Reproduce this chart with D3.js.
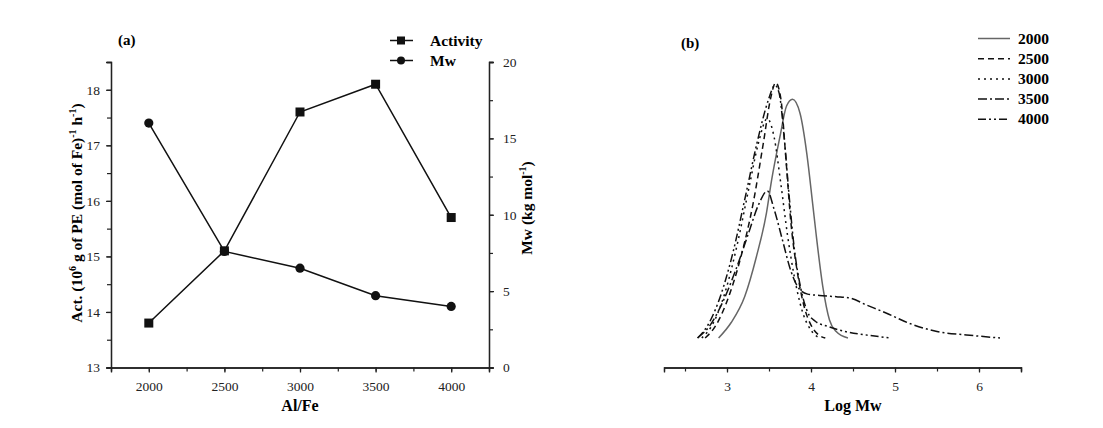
<!DOCTYPE html>
<html><head><meta charset="utf-8">
<script src="https://cdn.jsdelivr.net/npm/d3@7"></script>
<style>
body{margin:0;background:#fff;}
svg{display:block;font-family:"Liberation Serif","Times New Roman",serif;}
</style></head><body>
<svg id="c" width="1103" height="428"></svg>
<script>
// ---------- Panel (a) data ----------
const alFe = [2000, 2500, 3000, 3500, 4000];
const activity = [13.8, 15.1, 17.6, 18.1, 15.7];
const mw = [16.0, 7.6, 6.5, 4.7, 4.0];
const xTicksA = [2000, 2500, 3000, 3500, 4000];
const yTicksLeft = [13, 14, 15, 16, 17, 18];
const yTicksRight = [0, 5, 10, 15, 20];

// ---------- Panel (b) data: [log Mw, normalized intensity] ----------
const seriesNames = ["2000", "2500", "3000", "3500", "4000"];
const gpc2000 = [[2.90,0],[3.05,0.06],[3.21,0.16],[3.35,0.315],[3.47,0.485],[3.53,0.61],[3.63,0.78],[3.71,0.9],[3.78,0.925],[3.87,0.87],[3.95,0.715],[4.02,0.52],[4.06,0.405],[4.14,0.2],[4.22,0.07],[4.30,0.025],[4.44,0]];
const gpc2500 = [[2.74,0],[2.87,0.05],[3.02,0.16],[3.17,0.32],[3.31,0.52],[3.43,0.75],[3.52,0.93],[3.58,0.99],[3.64,0.93],[3.70,0.7],[3.76,0.45],[3.84,0.25],[3.92,0.12],[4.00,0.05],[4.08,0.015],[4.17,0]];
const gpc3000 = [[2.70,0],[2.84,0.06],[2.98,0.18],[3.12,0.36],[3.26,0.58],[3.37,0.75],[3.48,0.85],[3.56,0.78],[3.64,0.6],[3.72,0.4],[3.80,0.24],[3.90,0.1],[4.00,0.03],[4.10,0]];
const gpc3500 = [[2.65,0],[2.80,0.05],[2.95,0.14],[3.10,0.26],[3.25,0.40],[3.38,0.52],[3.48,0.57],[3.56,0.5],[3.66,0.38],[3.76,0.26],[3.86,0.19],[3.96,0.17],[4.10,0.165],[4.30,0.16],[4.46,0.155],[4.66,0.128],[4.90,0.096],[5.17,0.057],[5.50,0.025],[5.85,0.012],[6.25,0]];
const gpc4000 = [[2.65,0],[2.79,0.06],[2.93,0.17],[3.07,0.33],[3.22,0.55],[3.36,0.76],[3.49,0.92],[3.57,0.98],[3.62,0.95],[3.68,0.78],[3.74,0.55],[3.80,0.35],[3.88,0.19],[3.96,0.1],[4.05,0.065],[4.20,0.045],[4.42,0.024],[4.70,0.01],[4.95,0]];
const xTicksB = [3, 4, 5, 6];

const SERIF = "'Liberation Serif','Times New Roman',serif";
const svg = d3.select("#c");

// ================= Panel (a) =================
const xA = d3.scaleLinear().domain([1750, 4250]).range([111, 489]);
const yL = d3.scaleLinear().domain([13, 18.5]).range([367.5, 62]);
const yR = d3.scaleLinear().domain([0, 20]).range([367.5, 62]);

function styleAxis(g){
  g.attr("font-family", SERIF).attr("font-size", 13.5);
  g.selectAll(".tick text").attr("font-family", SERIF).attr("font-size", 13.5).attr("fill","#222");
  g.select(".domain").attr("stroke","#222").attr("stroke-width",1.3);
  g.selectAll(".tick line").attr("stroke","#222").attr("stroke-width",1.2);
}

// minor ticks
svg.append("g").attr("transform","translate(0,367.5)")
  .call(d3.axisBottom(xA).tickValues(d3.range(1750,4251,250)).tickSize(4).tickFormat(""))
  .call(styleAxis);
svg.append("g").attr("transform","translate(0,367.5)")
  .call(d3.axisBottom(xA).tickValues(xTicksA).tickSize(5).tickPadding(9).tickFormat(d3.format("d")))
  .call(styleAxis);

svg.append("g").attr("transform","translate(111,0)")
  .call(d3.axisLeft(yL).tickValues(d3.range(13,18.51,0.5)).tickSize(4).tickFormat(""))
  .call(styleAxis);
svg.append("g").attr("transform","translate(111,0)")
  .call(d3.axisLeft(yL).tickValues(yTicksLeft).tickSize(5).tickPadding(6).tickFormat(d3.format("d")))
  .call(styleAxis);

svg.append("g").attr("transform","translate(489,0)")
  .call(d3.axisRight(yR).tickValues(d3.range(0,20.1,2.5)).tickSize(4).tickFormat(""))
  .call(styleAxis);
svg.append("g").attr("transform","translate(489,0)")
  .call(d3.axisRight(yR).tickValues(yTicksRight).tickSize(5).tickPadding(9).tickFormat(d3.format("d")))
  .call(styleAxis);

// lines
const actData = alFe.map((a,i)=>[a,activity[i]]);
const mwData = alFe.map((a,i)=>[a,mw[i]]);
svg.append("path").datum(actData)
  .attr("d", d3.line().x(d=>xA(d[0])).y(d=>yL(d[1])))
  .attr("fill","none").attr("stroke","#111").attr("stroke-width",1.5);
svg.append("path").datum(mwData)
  .attr("d", d3.line().x(d=>xA(d[0])).y(d=>yR(d[1])))
  .attr("fill","none").attr("stroke","#111").attr("stroke-width",1.5);
svg.selectAll(".sq").data(actData).enter().append("rect")
  .attr("x",d=>xA(d[0])-4.5).attr("y",d=>yL(d[1])-4.5)
  .attr("width",9).attr("height",9).attr("fill","#111");
svg.selectAll(".ci").data(mwData).enter().append("circle")
  .attr("cx",d=>xA(d[0])).attr("cy",d=>yR(d[1])).attr("r",4.6).attr("fill","#111");

// titles
svg.append("text").attr("x",118).attr("y",45).attr("font-weight","bold").attr("font-size",15).text("(a)");
svg.append("text").attr("x",300).attr("y",411).attr("text-anchor","middle")
  .attr("font-weight","bold").attr("font-size",16).text("Al/Fe");

const yt = svg.append("text").attr("transform","translate(82,213) rotate(-90)")
  .attr("text-anchor","middle").attr("font-weight","bold").attr("font-size",15.5);
yt.append("tspan").text("Act. (10");
yt.append("tspan").attr("dy",-6).attr("font-size",10).text("6");
yt.append("tspan").attr("dy",6).text(" g of PE (mol of Fe)");
yt.append("tspan").attr("dy",-6).attr("font-size",10).text("-1");
yt.append("tspan").attr("dy",6).text(" h");
yt.append("tspan").attr("dy",-6).attr("font-size",10).text("-1");
yt.append("tspan").attr("dy",6).text(")");

const rt = svg.append("text").attr("transform","translate(532,208) rotate(-90)")
  .attr("text-anchor","middle").attr("font-weight","bold").attr("font-size",15.5);
rt.append("tspan").text("Mw (kg mol");
rt.append("tspan").attr("dy",-6).attr("font-size",10).text("-1");
rt.append("tspan").attr("dy",6).text(")");

// legend (a)
const legA = [{name:"Activity", y:40.5, shape:"sq"},{name:"Mw", y:60.5, shape:"ci"}];
legA.forEach(l=>{
  svg.append("line").attr("x1",390).attr("x2",413).attr("y1",l.y).attr("y2",l.y)
    .attr("stroke","#111").attr("stroke-width",1.5);
  if(l.shape==="sq") svg.append("rect").attr("x",397).attr("y",l.y-4).attr("width",8).attr("height",8).attr("fill","#111");
  else svg.append("circle").attr("cx",401).attr("cy",l.y).attr("r",4).attr("fill","#111");
  svg.append("text").attr("x",430).attr("y",l.y+5).attr("font-weight","bold").attr("font-size",15.5).text(l.name);
});

// ================= Panel (b) =================
const xB = d3.scaleLinear().domain([2.25, 6.5]).range([664, 1021]);
const yB = d3.scaleLinear().domain([0, 1]).range([338, 80]);

svg.append("g").attr("transform","translate(0,367.5)")
  .call(d3.axisBottom(xB).tickValues(d3.range(2.5,6.51,0.5)).tickSize(4).tickFormat(""))
  .call(styleAxis);
svg.append("g").attr("transform","translate(0,367.5)")
  .call(d3.axisBottom(xB).tickValues(xTicksB).tickSize(5).tickPadding(9).tickFormat(d3.format("d")))
  .call(styleAxis);

const gpcAll = [gpc2000, gpc2500, gpc3000, gpc3500, gpc4000];
const dashes = ["none", "6,4", "2,4", "9,3,2,3", "8,3,2,3,2,3"];
const colors = ["#666", "#111", "#111", "#111", "#111"];
const lineB = d3.line().x(d=>xB(d[0])).y(d=>yB(d[1])).curve(d3.curveMonotoneX);
gpcAll.forEach((s,i)=>{
  svg.append("path").datum(s).attr("d", lineB)
    .attr("fill","none").attr("stroke",colors[i]).attr("stroke-width",1.5)
    .attr("stroke-dasharray",dashes[i]);
});

svg.append("text").attr("x",681).attr("y",48).attr("font-weight","bold").attr("font-size",15).text("(b)");
svg.append("text").attr("x",853).attr("y",411).attr("text-anchor","middle")
  .attr("font-weight","bold").attr("font-size",16).text("Log Mw");

// legend (b)
seriesNames.forEach((n,i)=>{
  const y = 38.5 + i*20.2;
  svg.append("line").attr("x1",978).attr("x2",1010).attr("y1",y).attr("y2",y)
    .attr("stroke",colors[i]).attr("stroke-width",1.5).attr("stroke-dasharray",dashes[i]);
  svg.append("text").attr("x",1018).attr("y",y+5).attr("font-weight","bold").attr("font-size",15.5).text(n);
});
</script>
</body></html>
